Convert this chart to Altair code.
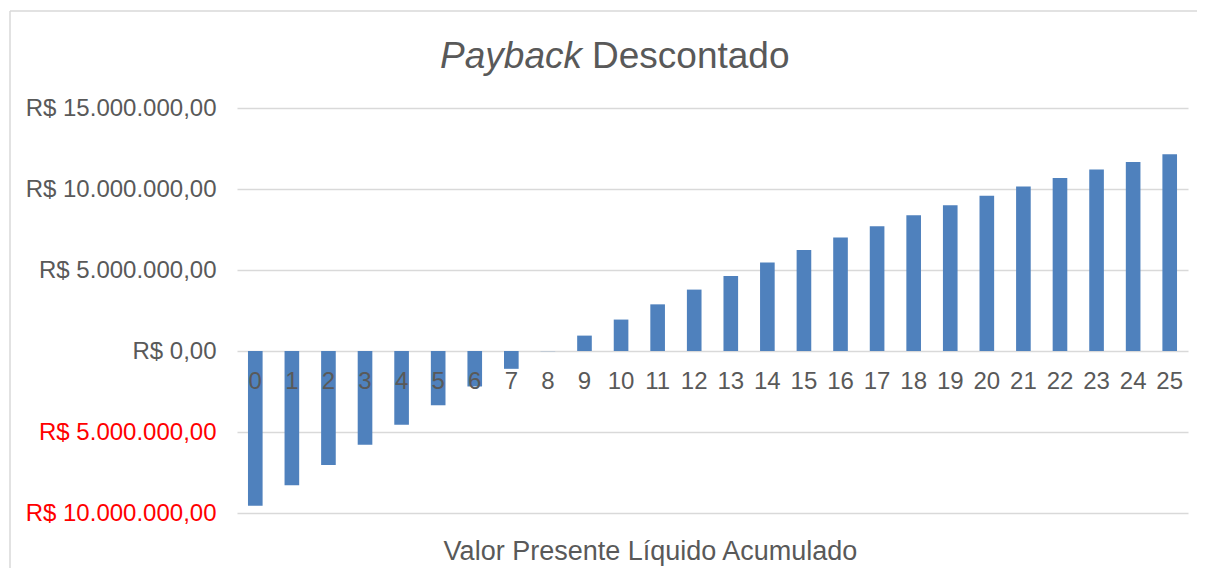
import altair as alt
import pandas as pd

# ---- data ----
years = list(range(26))
vpl_acumulado = [
    -9550000, -8290000, -7030000, -5790000, -4550000, -3350000, -2190000,
    -1100000, -10000, 950000, 1940000, 2880000, 3790000, 4630000, 5460000,
    6240000, 7000000, 7700000, 8380000, 8990000, 9590000, 10150000,
    10680000, 11200000, 11670000, 12140000,
]
y_ticks = [-10000000, -5000000, 0, 5000000, 10000000, 15000000]
y_tick_labels = [
    "R$ 10.000.000,00", "R$ 5.000.000,00", "R$ 0,00",
    "R$ 5.000.000,00", "R$ 10.000.000,00", "R$ 15.000.000,00",
]
title_italic = "Payback"
title_rest = "Descontado"
x_title = "Valor Presente Líquido Acumulado"

df = pd.DataFrame({"ano": [str(y) for y in years], "vpl": vpl_acumulado})

FONT = "Liberation Sans"
GRAY = "#595959"
BLUE = "#4F81BD"

label_expr = ""
for v, s in zip(y_ticks, y_tick_labels):
    label_expr += f"datum.value == {v} ? '{s}' : "
label_expr += "''"

W, H = 951, 405

x_enc = alt.X(
    "ano:N",
    sort=[str(y) for y in years],
    scale=alt.Scale(paddingInner=0.6, paddingOuter=0.3),
    axis=alt.Axis(
        title=x_title, labels=False, ticks=False, domain=False,
        titleFont=FONT, titleFontSize=27, titleFontWeight="normal",
        titleColor=GRAY, titleX=413, titleY=46, titleAlign="center",
        titleBaseline="alphabetic", titleAnchor=None,
    ),
)

y_scale = alt.Scale(domain=[-10000000, 15000000], nice=False)

bars = alt.Chart(df).mark_bar(color=BLUE).encode(
    x=x_enc,
    y=alt.Y(
        "vpl:Q",
        scale=y_scale,
        axis=alt.Axis(
            title=None, values=y_ticks, labelExpr=label_expr, ticks=False,
            domain=False, labelFont=FONT, labelFontSize=24, labelPadding=21,
            labelLimit=400,
            labelColor=alt.expr(f"datum.value < 0 ? '#FF0000' : '{GRAY}'"),
            gridColor="#D9D9D9", gridWidth=1.4,
        ),
    ),
)

x_labels = alt.Chart(df).mark_text(
    font=FONT, fontSize=24, color=GRAY, baseline="alphabetic", dy=38
).encode(
    x=alt.X("ano:N", sort=[str(y) for y in years]),
    y=alt.datum(0, scale=y_scale),
    text="ano:N",
)

title_a = alt.Chart(pd.DataFrame({"t": [title_italic]})).mark_text(
    font=FONT, fontSize=37, fontStyle="italic", color=GRAY, align="right",
    baseline="alphabetic",
).encode(x=alt.value(345), y=alt.value(-40), text="t:N")

title_b = alt.Chart(pd.DataFrame({"t": [title_rest]})).mark_text(
    font=FONT, fontSize=37, color=GRAY, align="left", baseline="alphabetic",
).encode(x=alt.value(355), y=alt.value(-40), text="t:N")

border_top = alt.Chart(pd.DataFrame({"b": [0]})).mark_rule(
    color="#D9D9D9", strokeWidth=1.5
).encode(x=alt.value(-227), x2=alt.value(990), y=alt.value(-97))

border_left = alt.Chart(pd.DataFrame({"b": [0]})).mark_rule(
    color="#D9D9D9", strokeWidth=1.5
).encode(x=alt.value(-227), y=alt.value(-97), y2=alt.value(480))

chart = (
    alt.layer(border_top, border_left, bars, x_labels, title_a, title_b)
    .properties(
        width=W, height=H,
        autosize=alt.AutoSizeParams(type="none"),
        padding={"left": 229, "top": 100, "right": 9, "bottom": 55},
        background="white",
    )
    .configure_view(stroke=None)
)

chart.save("out.html", embed_options={"renderer": "svg", "actions": False})
